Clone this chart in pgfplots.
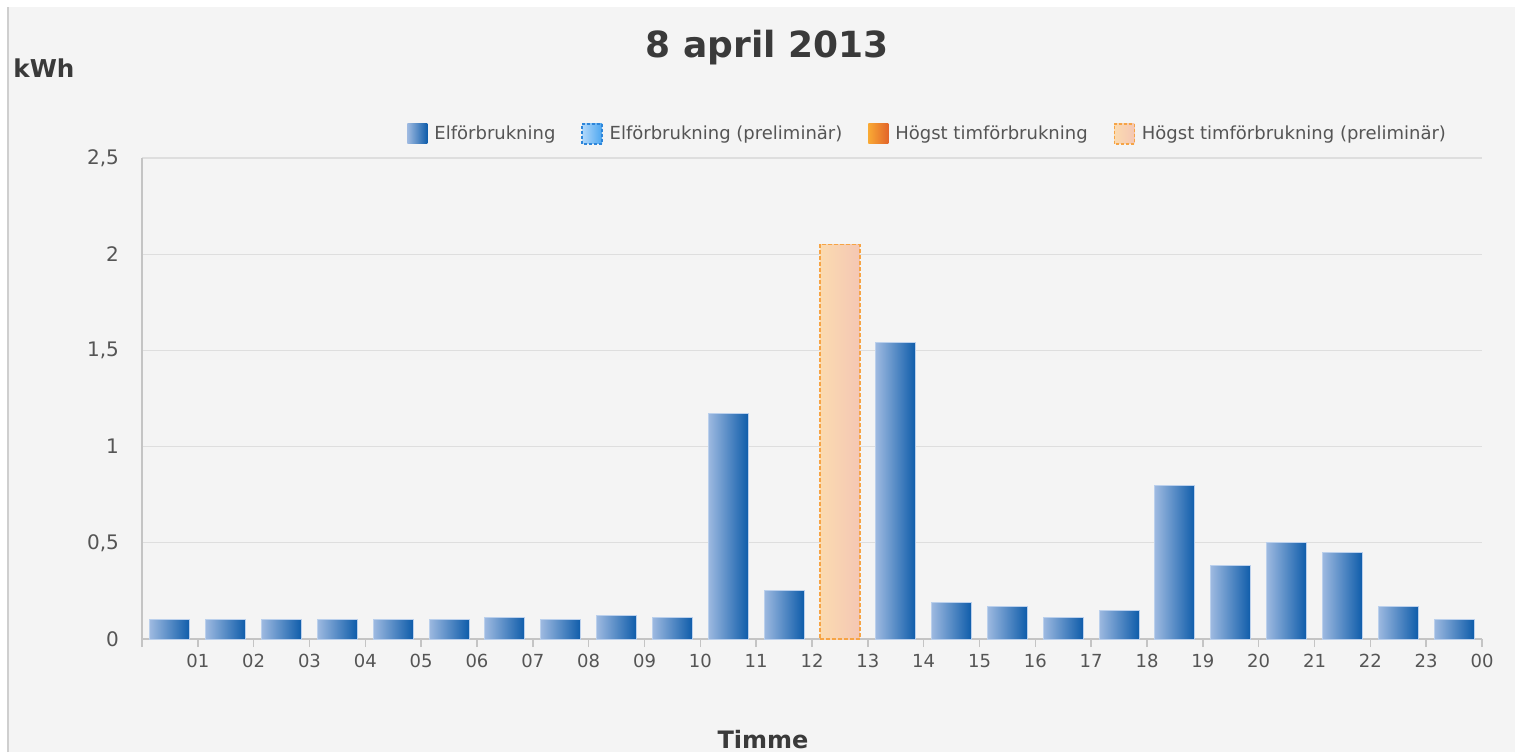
\documentclass[border=0pt]{standalone}
\usepackage{fontspec}
\setmainfont{DejaVu Sans}
\usepackage{pgfplots}
\pgfplotsset{compat=1.18}
\definecolor{bg}{HTML}{F4F4F4}
\definecolor{bord}{HTML}{CFCFCF}
\definecolor{txt}{HTML}{3A3A3A}
\definecolor{tick}{HTML}{555555}
\definecolor{axl}{HTML}{C4C4C4}
\definecolor{gridc}{HTML}{DEDEDE}
\definecolor{blueL}{HTML}{9DB9E0}
\definecolor{blueD}{HTML}{0E5CAA}
\definecolor{blueE}{HTML}{BBD0EC}
\definecolor{pblueL}{HTML}{B2D8FA}
\definecolor{pblueD}{HTML}{4BA6F0}
\definecolor{pblueE}{HTML}{2E86DA}
\definecolor{orL}{HTML}{F9A934}
\definecolor{orD}{HTML}{E2652A}
\definecolor{porL}{HTML}{FBDBB0}
\definecolor{porD}{HTML}{F4C7B4}
\definecolor{porE}{HTML}{F6A445}
\pgfplotsset{bluebar/.style={forget plot, left color=blueL, right color=blueD, draw=blueE, line width=0.5pt}}
\begin{document}
\begin{tikzpicture}
\useasboundingbox (0,0) rectangle (757.5pt,376pt);
\fill[white] (0,0) rectangle (757.5pt,376pt);
\fill[bg] (4pt,0) rectangle (757.5pt,372.5pt);
\draw[draw=bord,line width=1pt] (4pt,0) -- (4pt,372.5pt);
\node[font=\bfseries\fontsize{18}{20}\selectfont, text=txt] at (383.5pt,352pt) {8 april 2013};
\node[font=\bfseries\fontsize{12.3}{14}\selectfont, text=txt, anchor=west, inner sep=0pt] at (6.5pt,342pt) {kWh};
\node[font=\bfseries\fontsize{12}{14}\selectfont, text=txt] at (381.5pt,6pt) {Timme};
\begin{axis}[
  at={(71pt,56.5pt)}, anchor=south west,
  scale only axis, width=670pt, height=240.5pt,
  xmin=0, xmax=24, ymin=0, ymax=2.5,
  ybar, bar width=20pt, bar shift=0pt,
  axis x line*=bottom, axis y line*=left,
  axis line style={draw=axl, line width=0.8pt, -},
  tick align=outside,
  xtick={0,...,24},
  xticklabels={,01,02,03,04,05,06,07,08,09,10,11,12,13,14,15,16,17,18,19,20,21,22,23,00},
  ytick={0,0.5,1,1.5,2,2.5},
  yticklabels={0,{0,5},1,{1,5},2,{2,5}},
  xtick style={draw=axl, line width=0.8pt},
  x tick label style={font=\fontsize{9}{10}\selectfont, text=tick},
  y tick label style={font=\fontsize{10}{11}\selectfont, text=tick, xshift=-4pt},
  ytick style={draw=none},
  major tick length=4pt,
  ymajorgrids, grid style={draw=gridc, line width=0.6pt},
  /pgf/number format/assume math mode=true,
  legend columns=4,
  legend style={at={(0.1978,1.05)}, anchor=west, draw=none, fill=none,
    font=\fontsize{9}{10}\selectfont, text=tick, inner sep=0pt,
    /tikz/every even column/.append style={column sep=11pt},
    /tikz/every odd column/.append style={column sep=1.5pt}},
]
\addlegendimage{legend image code/.code={\draw[left color=blueL,right color=blueD,draw=none] (0pt,-5pt) rectangle (10pt,5pt);}}
\addlegendentry{Elförbrukning}
\addlegendimage{legend image code/.code={\draw[left color=pblueL,right color=pblueD,draw=pblueE,dash pattern=on 1.5pt off 1pt,line width=0.6pt] (0pt,-5pt) rectangle (10pt,5pt);}}
\addlegendentry{Elförbrukning (preliminär)}
\addlegendimage{legend image code/.code={\draw[left color=orL,right color=orD,draw=none] (0pt,-5pt) rectangle (10pt,5pt);}}
\addlegendentry{Högst timförbrukning}
\addlegendimage{legend image code/.code={\draw[left color=porL,right color=porD,draw=porE,dash pattern=on 1.5pt off 1pt,line width=0.6pt] (0pt,-5pt) rectangle (10pt,5pt);}}
\addlegendentry{Högst timförbrukning (preliminär)}
\addplot[bluebar] coordinates {(0.5,0.1)};
\addplot[bluebar] coordinates {(1.5,0.1)};
\addplot[bluebar] coordinates {(2.5,0.1)};
\addplot[bluebar] coordinates {(3.5,0.1)};
\addplot[bluebar] coordinates {(4.5,0.1)};
\addplot[bluebar] coordinates {(5.5,0.1)};
\addplot[bluebar] coordinates {(6.5,0.11)};
\addplot[bluebar] coordinates {(7.5,0.1)};
\addplot[bluebar] coordinates {(8.5,0.12)};
\addplot[bluebar] coordinates {(9.5,0.11)};
\addplot[bluebar] coordinates {(10.5,1.17)};
\addplot[bluebar] coordinates {(11.5,0.25)};
\addplot[bluebar] coordinates {(13.5,1.54)};
\addplot[bluebar] coordinates {(14.5,0.19)};
\addplot[bluebar] coordinates {(15.5,0.17)};
\addplot[bluebar] coordinates {(16.5,0.11)};
\addplot[bluebar] coordinates {(17.5,0.15)};
\addplot[bluebar] coordinates {(18.5,0.80)};
\addplot[bluebar] coordinates {(19.5,0.38)};
\addplot[bluebar] coordinates {(20.5,0.50)};
\addplot[bluebar] coordinates {(21.5,0.45)};
\addplot[bluebar] coordinates {(22.5,0.17)};
\addplot[bluebar] coordinates {(23.5,0.1)};
\addplot[forget plot, left color=porL, right color=porD, draw=porE, dash pattern=on 2pt off 1pt, line width=0.7pt] coordinates {(12.5,2.05)};
\end{axis}
\end{tikzpicture}
\end{document}
